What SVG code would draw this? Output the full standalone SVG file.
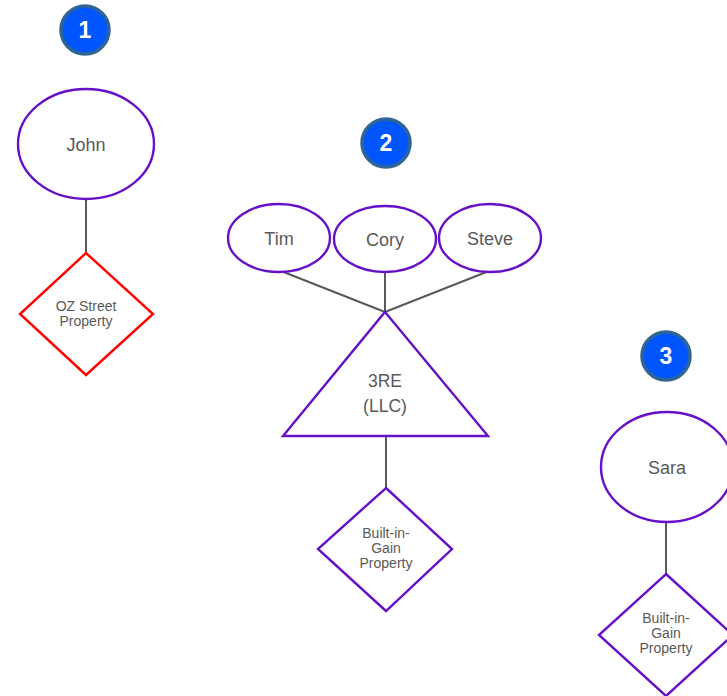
<svg xmlns="http://www.w3.org/2000/svg" width="727" height="696" viewBox="0 0 727 696">
  <style>
    .bg { fill: #ffffff; }
    .badge circle { fill: #0055ff; stroke: #2f6594; stroke-width: 3.5; }
    .badge text { fill: #ffffff; font-family: "Liberation Sans", Arial, sans-serif; font-weight: bold; font-size: 23px; text-anchor: middle; }
    .person ellipse { fill: #ffffff; stroke: #6610c8; stroke-width: 2.4; }
    .entity polygon { fill: #ffffff; stroke: #6610c8; stroke-width: 2.4; }
    .asset polygon { fill: #ffffff; stroke: #6610c8; stroke-width: 2.4; }
    .asset.oz polygon { stroke: #ff0000; }
    .lbl { fill: #595959; font-family: "Liberation Sans", Arial, sans-serif; text-anchor: middle; }
    .big { font-size: 18px; }
    .mid { font-size: 17.5px; }
    .small { font-size: 14px; }
    .connectors line { stroke: #595959; stroke-width: 2; }
  </style>
  <rect class="bg" x="0" y="0" width="727" height="696"/>

  <!-- connectors -->
  <g id="connectors" class="connectors">
    <line x1="86" y1="199" x2="86" y2="253"/>
    <line x1="281" y1="271" x2="385" y2="312"/>
    <line x1="385" y1="272" x2="385" y2="312"/>
    <line x1="489" y1="271" x2="385" y2="312"/>
    <line x1="386" y1="436" x2="386" y2="488"/>
    <line x1="666" y1="522" x2="666" y2="574"/>
  </g>

  <!-- step badges -->
  <g id="badge-1" class="badge">
    <circle cx="85" cy="30" r="24"/>
    <text x="85" y="38">1</text>
  </g>
  <g id="badge-2" class="badge">
    <circle cx="386" cy="143" r="24"/>
    <text x="386" y="151">2</text>
  </g>
  <g id="badge-3" class="badge">
    <circle cx="666" cy="356" r="24"/>
    <text x="666" y="364">3</text>
  </g>

  <!-- scenario 1 -->
  <g id="john" class="person">
    <ellipse cx="86" cy="144" rx="68" ry="55"/>
    <text class="lbl big" x="86" y="151">John</text>
  </g>
  <g id="oz-street-property" class="asset oz">
    <polygon points="86,253 153,314 86,375 20,314"/>
    <text class="lbl small" x="86" y="311">OZ Street</text>
    <text class="lbl small" x="86" y="326">Property</text>
  </g>

  <!-- scenario 2 -->
  <g id="tim" class="person">
    <ellipse cx="279" cy="238" rx="51" ry="34"/>
    <text class="lbl big" x="279" y="245">Tim</text>
  </g>
  <g id="cory" class="person">
    <ellipse cx="385" cy="239" rx="51" ry="33"/>
    <text class="lbl big" x="385" y="246">Cory</text>
  </g>
  <g id="steve" class="person">
    <ellipse cx="490" cy="238" rx="51" ry="34"/>
    <text class="lbl big" x="490" y="245">Steve</text>
  </g>
  <g id="llc-3re" class="entity">
    <polygon points="385,312 488,436 283,436"/>
    <text class="lbl mid" x="385" y="387">3RE</text>
    <text class="lbl mid" x="385" y="412">(LLC)</text>
  </g>
  <g id="built-in-gain-property-2" class="asset">
    <polygon points="386,488 452,549 386,611 318,549"/>
    <text class="lbl small" x="386" y="538">Built-in-</text>
    <text class="lbl small" x="386" y="553">Gain</text>
    <text class="lbl small" x="386" y="568">Property</text>
  </g>

  <!-- scenario 3 -->
  <g id="sara" class="person">
    <ellipse cx="667" cy="467" rx="66" ry="55"/>
    <text class="lbl big" x="667" y="474">Sara</text>
  </g>
  <g id="built-in-gain-property-3" class="asset">
    <polygon points="666,574 733,635 666,696 599,635"/>
    <text class="lbl small" x="666" y="623">Built-in-</text>
    <text class="lbl small" x="666" y="638">Gain</text>
    <text class="lbl small" x="666" y="653">Property</text>
  </g>
</svg>
